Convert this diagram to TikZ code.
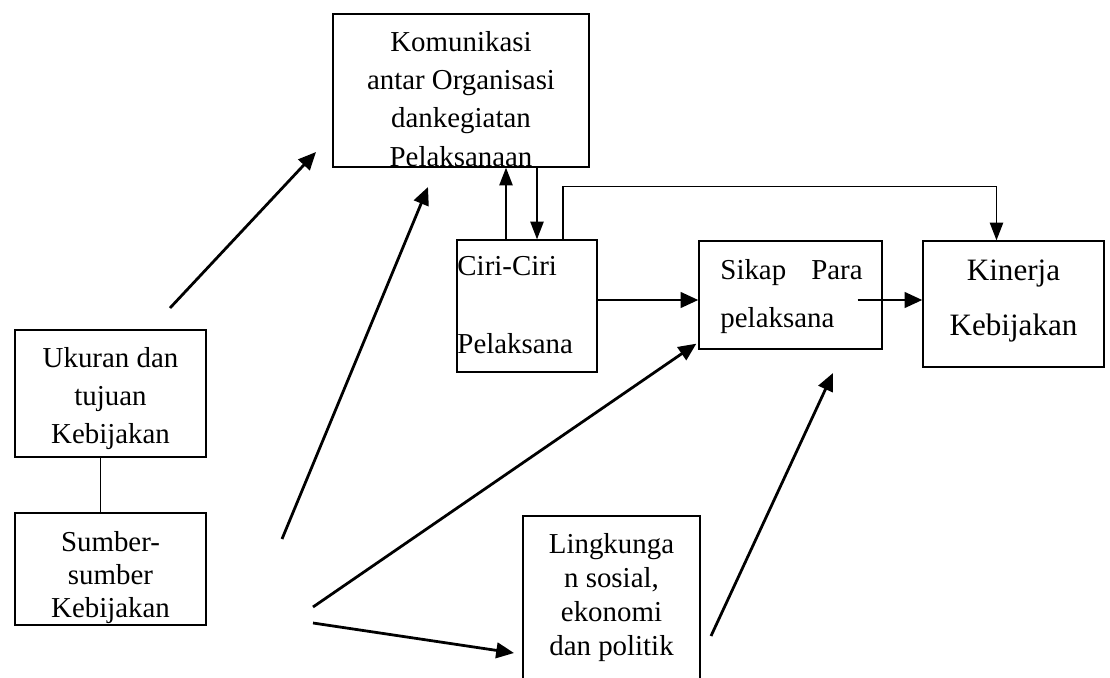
\documentclass[tikz,border=0pt]{standalone}
\usepackage{fontspec}
\setmainfont{Liberation Serif}
\usetikzlibrary{positioning}
\usetikzlibrary{arrows.meta}
\usetikzlibrary{calc}

\begin{document}
\begin{tikzpicture}[x=0.45pt, y=-0.45pt,
                    box/.style 2 args={draw=black, line width=.6pt, inner sep=0pt,
                                       minimum width=#1, minimum height=#2},
                    txt/.style={inner sep=0pt, anchor=base, align=center},
                    arr/.style={line width=1.25pt, -{Triangle[length=8pt, width=7pt]}},
                    thinarr/.style={line width=.7pt, -{Triangle[length=8pt, width=6pt]}}]

  \useasboundingbox (0,0) rectangle (1110,677);
  \clip (0,0) rectangle (1110,677);

  % boxes
  \node[box={115.2pt}{68.85pt}] (kom)     at (461,90.5)   {};
  \node[box={63pt}{59.4pt}]     (ciri)    at (527,306)    {};
  \node[box={82.35pt}{48.6pt}]  (sikap)   at (790.5,295)  {};
  \node[box={81.45pt}{56.7pt}]  (kinerja) at (1013.5,304) {};
  \node[box={85.95pt}{57.15pt}] (ukuran)  at (110.5,393.5) {};
  \node[box={85.95pt}{50.4pt}]  (sumber)  at (110.5,569)  {};
  \node[box={79.65pt}{82.8pt}]  (ling)    at (611.5,608)  {};

  % texts (base = last line)
  \node[txt, font=\fontsize{13}{17.2}\selectfont] (komText) at (461,166)
    {Komunikasi\\antar Organisasi\\dankegiatan\\Pelaksanaan};
  \node[txt, anchor=base west, align=left, font=\fontsize{13}{35}\selectfont] (ciriText) at (457,353)
    {Ciri-Ciri\\Pelaksana};
  \node[txt, anchor=base west, align=left, text width=64pt, font=\fontsize{13}{22}\selectfont] (sikapText) at (720,279)
    {Sikap\hfill Para\\pelaksana};
  \node[txt, font=\fontsize{14}{24.75}\selectfont] (kinerjaText) at (1013.5,335)
    {Kinerja\\Kebijakan};
  \node[txt, font=\fontsize{13}{17.1}\selectfont] (ukuranText) at (110.5,443)
    {Ukuran dan\\tujuan\\Kebijakan};
  \node[txt, font=\fontsize{13}{14.85}\selectfont] (sumberText) at (110.5,617)
    {Sumber-\\sumber\\Kebijakan};
  \node[txt, font=\fontsize{13}{15.3}\selectfont] (lingText) at (611.5,655)
    {Lingkunga\\n sosial,\\ekonomi\\dan politik};

  % free ends
  \coordinate (ukA)   at (170,308);
  \coordinate (komA)  at (316,152);
  \coordinate (suA)   at (282,539);
  \coordinate (komB)  at (428,187);
  \coordinate (suB)   at (313,607);
  \coordinate (suC)   at (313,623);
  \coordinate (lingA) at (514,653);
  \coordinate (lingB) at (711,636);
  \coordinate (sikB)  at (833,373);

  \draw[line width=.6pt] ($(ukuran.south)+(-10,0)$) -- ($(sumber.north)+(-10,0)$);

  \draw[arr] (ukA) -- (komA);
  \draw[arr] (suA) -- (komB);
  \draw[arr] (suB) -- ($(sikap.south west)+(-2,-6)$);
  \draw[arr] (suC) -- (lingA);
  \draw[arr] (lingB) -- (sikB);
  \draw[arr] ($(ciri.east)+(0,-6)$) -- ($(sikap.west)+(0,5)$);
  \draw[arr] ($(sikap.east)+(-25,5)$) -- ($(kinerja.west)+(0,-4)$);

  \draw[thinarr] ($(ciri.north)+(-21,0)$) -- ($(kom.south)+(45,0)$);
  \draw[thinarr] ($(kom.south)+(76,0)$) -- ($(ciri.north)+(10,0)$);
  \draw[thinarr] ($(ciri.north)+(36,0)$) |- ($(kinerja.north)+(-17,-54)$)
                 -- ($(kinerja.north)+(-17,0)$);

\end{tikzpicture}
\end{document}
